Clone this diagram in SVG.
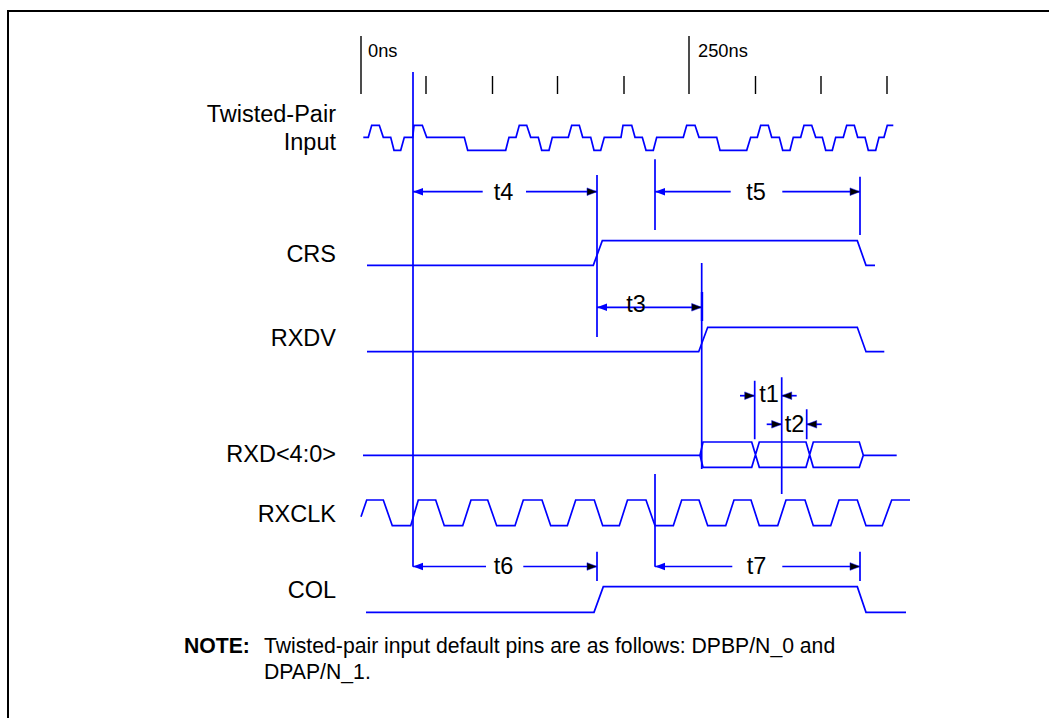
<svg xmlns="http://www.w3.org/2000/svg" width="1049" height="718" viewBox="0 0 1049 718">
<defs>
<marker id="hb" markerUnits="userSpaceOnUse" markerWidth="12" markerHeight="10" refX="11" refY="5" orient="auto-start-reverse"><path d="M1,1.2 L11,5 L1,8.8 Z" fill="#0000ff"/></marker>
<marker id="hk" markerUnits="userSpaceOnUse" markerWidth="12" markerHeight="10" refX="11" refY="5" orient="auto-start-reverse"><path d="M1,1.2 L11,5 L1,8.8 Z" fill="#000" stroke="#0000ff" stroke-width="0.5"/></marker>
</defs>
<style>
text{font-family:"Liberation Sans",Arial,sans-serif;fill:#000}
.s{fill:none;stroke:#0000ff;stroke-width:1.7}
.k{fill:none;stroke:#000;stroke-width:1.4}
.l{font-size:23.5px;text-anchor:end}
.t{font-size:23.5px;text-anchor:middle}
.h{font-size:18.3px}
.n{font-size:21.2px}
</style>
<rect x="0" y="0" width="1049" height="718" fill="#fff"/>
<path d="M8,718 V11 H1049" fill="none" stroke="#000" stroke-width="2"/>
<g id="time-scale">
<path class="k" d="M361,36 V94 M689,36 V94 M426,76 V94 M492.5,76 V94 M557.5,76 V94 M624,76 V94 M755.5,76 V94 M821,76 V94 M887,76 V94"/>
<text class="h" x="368" y="57">0ns</text>
<text class="h" x="698" y="57">250ns</text>
</g>
<g id="twisted-pair-input">
<text class="l" x="336" y="122">Twisted-Pair</text>
<text class="l" x="336" y="150">Input</text>
<path class="s" d="M363.3,137.3 H368.3 L371.7,125.3 H379.3 L383.3,137.3 H390.7 L394,150.3 H400.7 L404.3,137.3 H412.7 L414,125.3 H422.3 L426.7,137.3 H464.3 L467.7,150.3 H505.7 L509,137.3 H516 L519.3,125.3 H526.7 L530.7,137.3 H538.3 L541.7,150.3 H549 L552.3,137.3 H568.3 L571.7,125.3 H579.3 L582.7,137.3 H590.7 L594,150.3 H600.7 L604.3,137.3 H621 L623,125.3 H631.7 L635,137.3 H642.3 L646,150.3 H653.3 L656.7,137.3 H683.3 L686.7,125.3 H695 L699,137.3 H716.7 L720,150.3 H746.7 L750.7,137.3 H757.3 L760.7,125.3 H768.3 L771.7,137.3 H779.3 L782.7,150.3 H790 L793.3,137.3 H800.7 L804,125.3 H811.7 L815.7,137.3 H822.3 L825.7,150.3 H832.3 L835.7,137.3 H843.3 L846.7,125.3 H854.3 L857.7,137.3 H865 L868.3,150.3 H875.7 L879,137.3 H884 L887.3,125.3 H893.3"/>
</g>
<g id="crs">
<text class="l" x="336" y="262">CRS</text>
<path class="s" d="M367,265.3 H593.3 L602.3,240.7 H857.3 L866,265.3 H875"/>
</g>
<g id="rxdv">
<text class="l" x="336" y="345.5">RXDV</text>
<path class="s" d="M367,351.7 H698.7 L707.7,327.3 H857.3 L866,351.7 H884.3"/>
</g>
<g id="rxd">
<text class="l" x="336" y="461.5">RXD&lt;4:0&gt;</text>
<path class="s" d="M363,455.3 H700 L703,442 H751.7 L759.3,467.3 H806 L813.3,442 H859.3 L863.3,455.3 L859.3,467.3 H813.3 L806,442 H759.3 L751.7,467.3 H703 L700,455.3 M863.3,455.3 H896.7"/>
</g>
<g id="rxclk">
<text class="l" x="336" y="521.5">RXCLK</text>
<path class="s" d="M361,516.7 L366.7,500 H383.3 L392.3,525.7 H410.7 L418.3,500 H435.7 L444.3,525.7 H462.7 L471,500 H487.7 L496.7,525.7 H515 L523.3,500 H542 L550.7,525.7 H567.3 L575.7,500 H594.3 L602.7,525.7 H619.3 L627.5,500 H646 L655,525.7 H673.3 L681.7,500 H699 L707.7,525.7 H725.7 L734,500 H751 L759.3,525.7 H777.7 L786,500 H805 L813.3,525.7 H830.7 L839,500 H857.3 L866,525.7 H882.3 L891.7,500 H910"/>
</g>
<g id="col">
<text class="l" x="336" y="598">COL</text>
<path class="s" d="M366,612.3 H594 L603.3,586.7 H857.3 L866,612.3 H906"/>
</g>
<g id="connectors">
<path class="s" d="M413,72 V566.7 M597,175 V337 M655,159.3 V230 M860,176.7 V235 M701.7,263 V469 M754.7,380.7 V439.3 M781.7,377.3 V494 M806.7,409.3 V439.3 M655,474 V566.7 M597,551.7 V581 M860,551.7 V581"/>
<path d="M702,292 V321" fill="none" stroke="#0000ff" stroke-width="2.4"/>
<path class="s" d="M482.7,191.7 H413" marker-end="url(#hb)"/>
<path class="s" d="M526,191.7 H597" marker-end="url(#hk)"/>
<path class="s" d="M730.7,191.7 H655" marker-end="url(#hb)"/>
<path class="s" d="M782.3,191.7 H860" marker-end="url(#hk)"/>
<path class="s" d="M597,307.3 H701.7" marker-start="url(#hb)" marker-end="url(#hk)"/>
<path class="s" d="M740,395.7 H754.7" marker-end="url(#hk)"/>
<path class="s" d="M796.7,395.7 H781.7" marker-end="url(#hk)"/>
<path class="s" d="M766.7,424.3 H781.7" marker-end="url(#hk)"/>
<path class="s" d="M821.7,424.3 H806.7" marker-end="url(#hk)"/>
<path class="s" d="M486,566.5 H413" marker-end="url(#hb)"/>
<path class="s" d="M523.3,566.5 H597" marker-end="url(#hk)"/>
<path class="s" d="M732.3,566.5 H655" marker-end="url(#hb)"/>
<path class="s" d="M782.3,566.5 H860" marker-end="url(#hk)"/>
</g>
<g id="timing-labels">
<text class="t" x="503.5" y="199.5">t4</text>
<text class="t" x="756" y="199.5">t5</text>
<text class="t" x="636" y="312">t3</text>
<text class="t" x="769" y="402">t1</text>
<text class="t" x="794.5" y="432">t2</text>
<text class="t" x="503.5" y="573.5">t6</text>
<text class="t" x="756.5" y="573.5">t7</text>
</g>
<g id="note">
<text class="n" x="184" y="653.3" font-weight="bold">NOTE:</text>
<text class="n" x="264" y="653.3">Twisted-pair input default pins are as follows: DPBP/N_0 and</text>
<text class="n" x="264" y="679.3">DPAP/N_1.</text>
</g>
</svg>
